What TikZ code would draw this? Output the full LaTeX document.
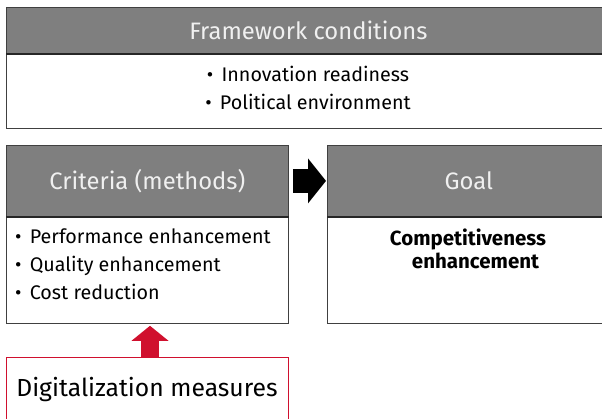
\documentclass[tikz,border=0pt]{standalone}
\usepackage{fontspec}
\setmainfont{Fira Sans}
\usetikzlibrary{arrows.meta}
\definecolor{headgray}{HTML}{7F7F7F}
\definecolor{framegray}{HTML}{404040}
\definecolor{digired}{HTML}{D0102E}
\newcommand{\blt}{\textbullet\hspace{0.42em}}
\tikzset{
    head/.style={draw=framegray, line width=0.8pt, fill=headgray, text=white!94!black,
        anchor=north west, inner sep=0pt, font=\fontsize{23.8}{28}\selectfont},
    body/.style={draw=framegray, line width=0.8pt, fill=white, anchor=north west, inner sep=0pt},
    listtext/.style={inner sep=0pt, font=\fontsize{19.7}{27.5}\selectfont}
}
\begin{document}
\begin{tikzpicture}[x=1pt, y=-1pt]
        \useasboundingbox (0, 0) rectangle (602, 418);
        \clip (0, 0) rectangle (602, 418);
        % framework conditions
        \node [body, minimum width=604pt, minimum height=75pt] (fwbody) at (6, 53) {};
        \node [head, minimum width=604pt, minimum height=46pt] (fwhead) at (6, 7) {Framework conditions};
        \draw [line width=2pt, black!85] (fwhead.south west) -- (fwhead.south east);
        \node [listtext, align=center] (fwlist) at (308, 88) {\blt Innovation readiness\\\blt Political environment};
        % criteria
        \node [body, minimum width=282pt, minimum height=107pt] (critbody) at (6, 216) {};
        \node [head, minimum width=282pt, minimum height=71pt] (crithead) at (6, 145) {Criteria (methods)};
        \draw [line width=2pt, black!85] (crithead.south west) -- (crithead.south east);
        \node [listtext, align=left, anchor=north west, font=\fontsize{19.7}{28}\selectfont] (critlist) at (15, 229) {\blt Performance enhancement\\\blt Quality enhancement\\\blt Cost reduction};
        % goal
        \node [body, minimum width=283pt, minimum height=107pt] (goalbody) at (327, 216) {};
        \node [head, minimum width=283pt, minimum height=71pt] (goalhead) at (327, 145) {Goal};
        \draw [line width=2pt, black!85] (goalhead.south west) -- (goalhead.south east);
        \node [listtext, align=center, font=\bfseries\fontsize{20.5}{23}\selectfont] (goaltext) at (468, 249) {Competitiveness\\\hspace*{15pt}enhancement};
        % digitalization
        \node [draw=digired, line width=1pt, fill=white, anchor=north west, minimum width=282pt, minimum height=80pt] (digi) at (6, 357) {};
        \node [font=\fontsize{24.7}{28}\selectfont, inner sep=0pt] (digitext) at (147, 389) {Digitalization measures};
        % arrows
        \draw [line width=24pt, -{Triangle[length=18pt, width=45pt, line width=0pt]}, shorten <=4pt, shorten >=1pt]
            (crithead.east) -- (goalhead.west);
        \draw [digired, line width=18pt, -{Triangle[length=15pt, width=37pt, line width=0pt]}, shorten >=2pt]
            (digi.north -| 150, 0) -- (critbody.south -| 150, 0);
    \end{tikzpicture}
\end{document}
